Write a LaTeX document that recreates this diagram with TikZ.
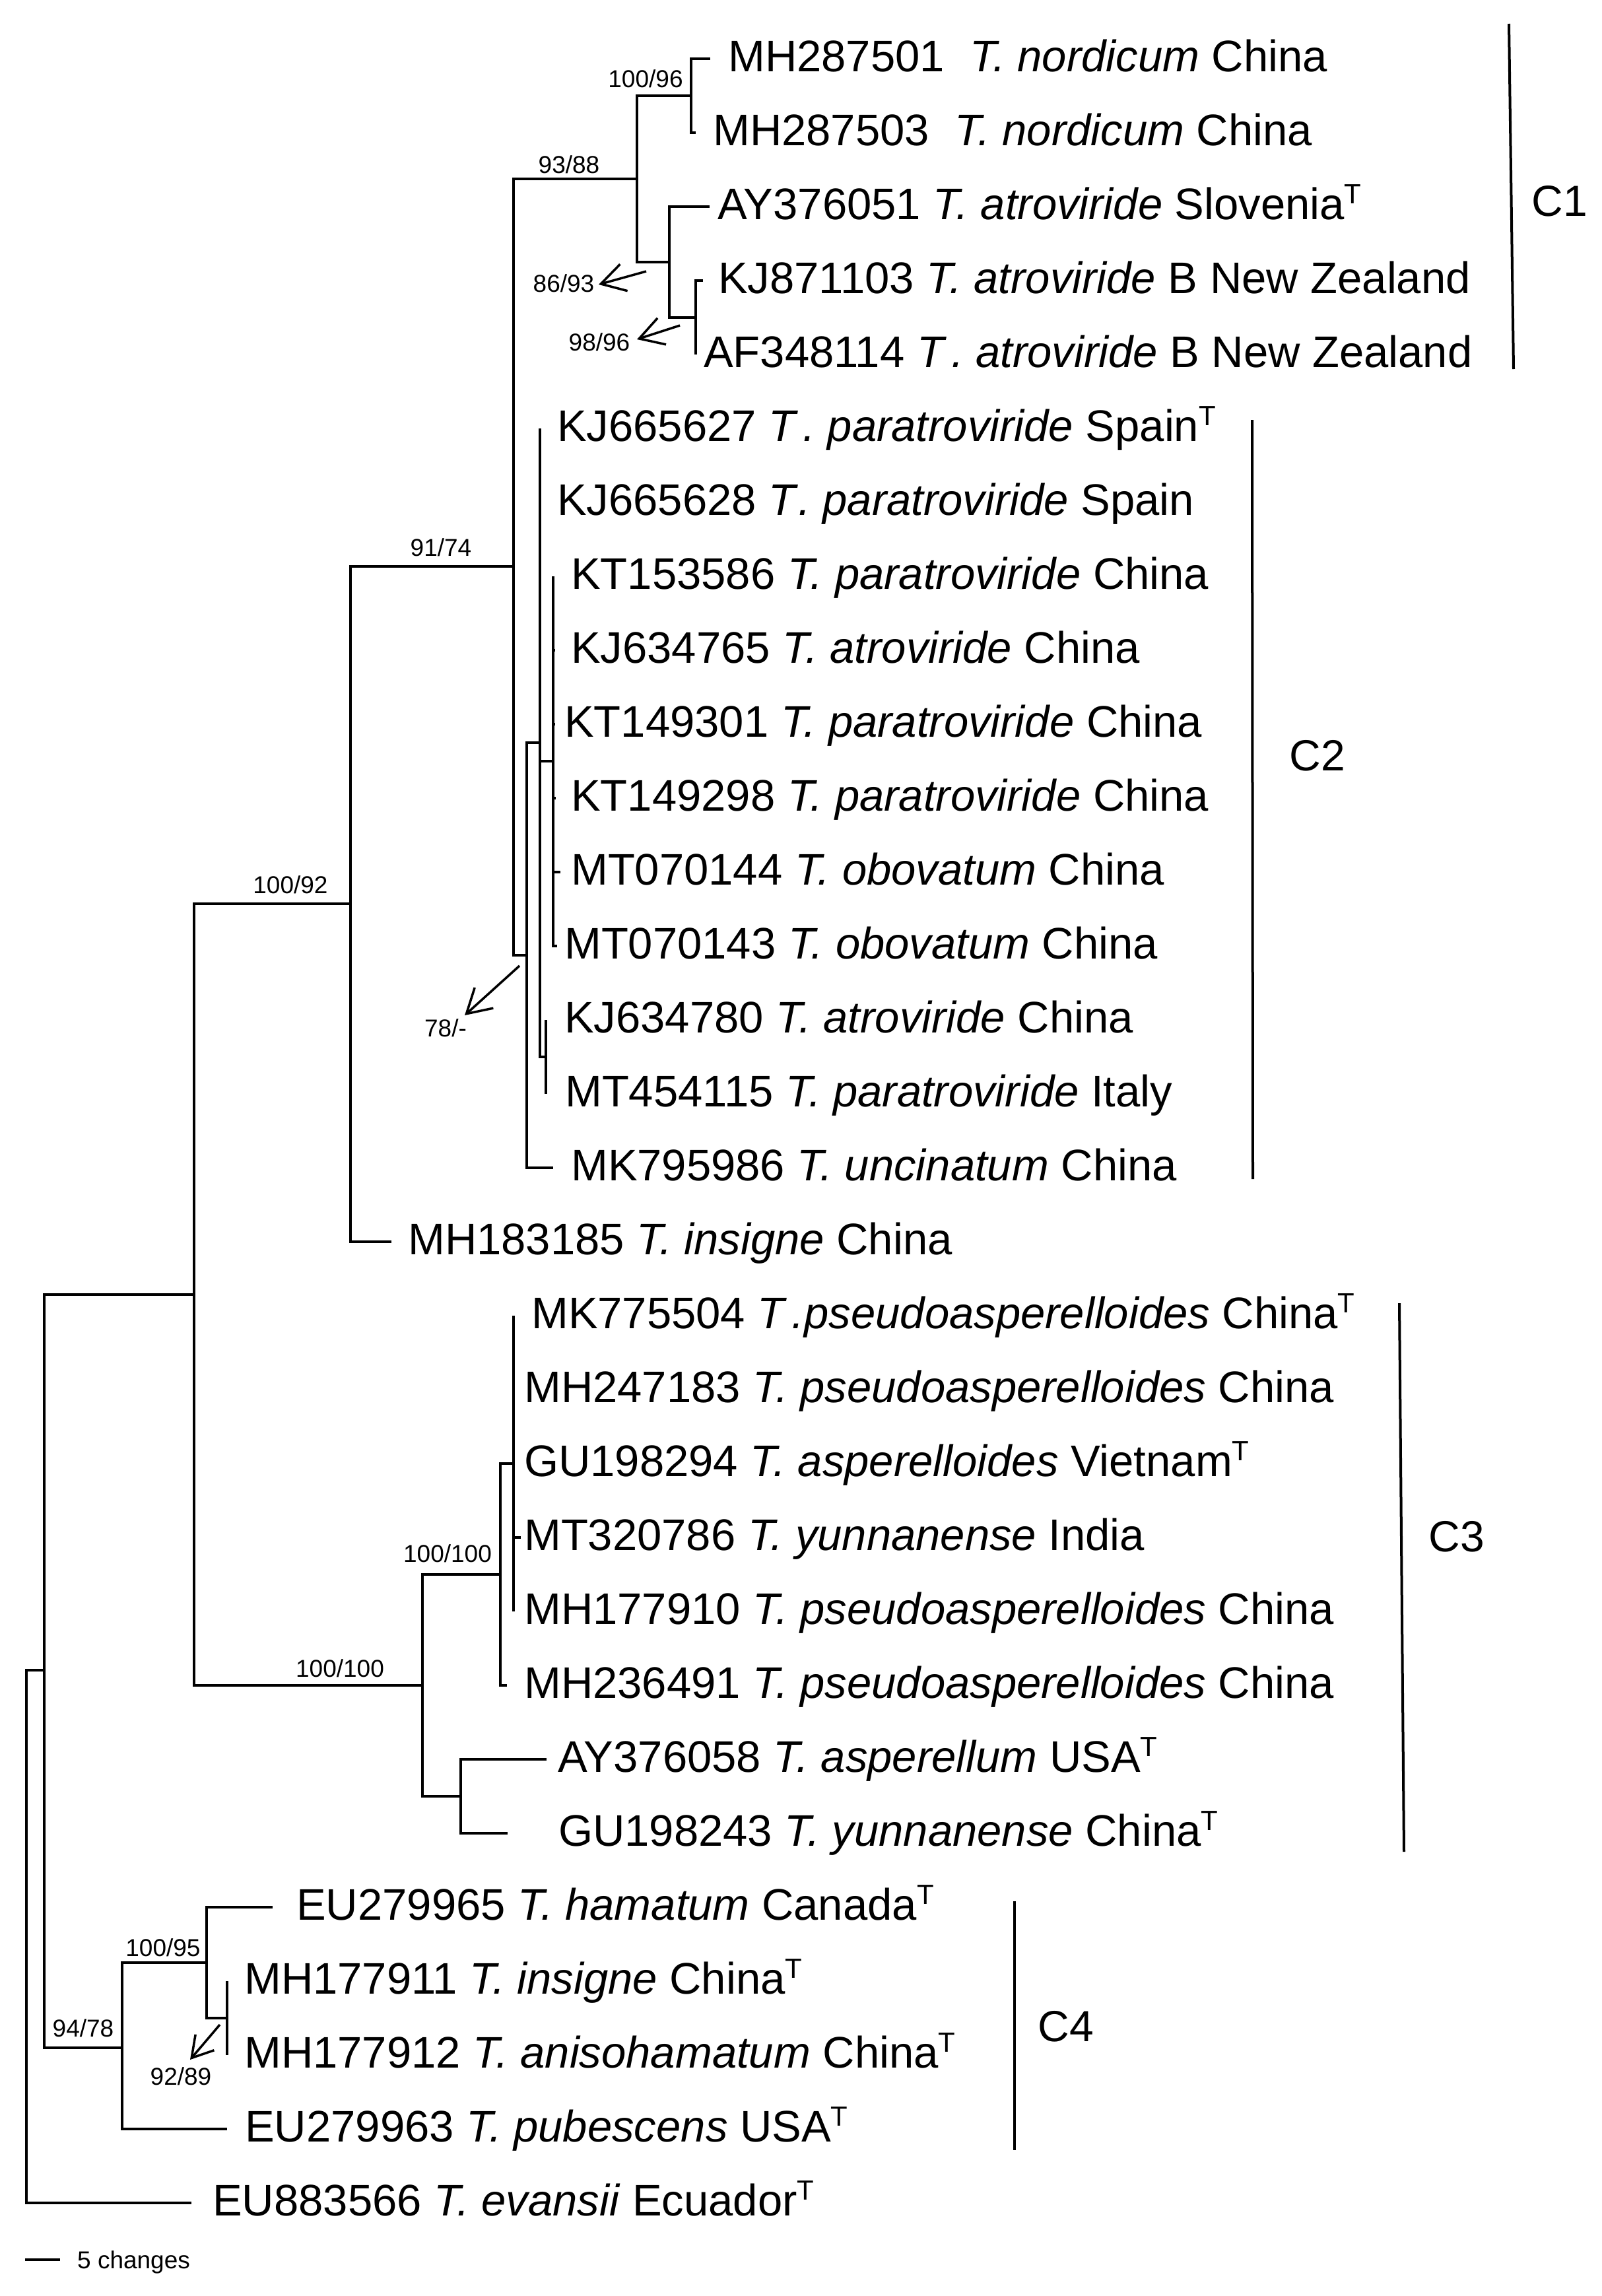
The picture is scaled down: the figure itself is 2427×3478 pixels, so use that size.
\documentclass[tikz,border=0pt]{standalone}
\usepackage{fontspec}
\setmainfont{Liberation Sans}
\usetikzlibrary{arrows.meta}
\newcommand\supT{\raisebox{24pt}{\fontsize{42}{42}\selectfont T}}
\begin{document}
\begin{tikzpicture}[x=1pt,y=-1pt,
  br/.style={line width=4.3pt, line join=miter},
  tiplab/.style={anchor=base west, inner sep=0pt, font=\fontsize{67}{80}\selectfont},
  supval/.style={inner sep=0pt, font=\fontsize{37}{44}\selectfont},
  cladelab/.style={inner sep=0pt, font=\fontsize{66}{79}\selectfont},
  cbar/.style={line width=4pt},
  ptr/.style={line width=3.5pt, -{Straight Barb[length=36pt,width=42pt]}},
  ptrs/.style={line width=3.5pt, -{Straight Barb[length=31pt,width=37pt]}}]
\useasboundingbox (0,0) rectangle (2427,3478);
% tips
\coordinate (t0) at (1076,89);
\coordinate (t1) at (1054,201);
\coordinate (t2) at (1075,313);
\coordinate (t3) at (1065,425);
\coordinate (t4) at (1054,537);
\coordinate (t5) at (818,649);
\coordinate (t6) at (818,761);
\coordinate (t7) at (838,873);
\coordinate (t8) at (841,985);
\coordinate (t9) at (841,1097);
\coordinate (t10) at (842,1209);
\coordinate (t11) at (849,1321);
\coordinate (t12) at (844,1433);
\coordinate (t13) at (827,1545);
\coordinate (t14) at (827,1657);
\coordinate (t15) at (838,1769);
\coordinate (t16) at (593,1881);
\coordinate (t17) at (778,1993);
\coordinate (t18) at (778,2105);
\coordinate (t19) at (778,2217);
\coordinate (t20) at (789,2329);
\coordinate (t21) at (778,2441);
\coordinate (t22) at (768,2553);
\coordinate (t23) at (828,2665);
\coordinate (t24) at (769,2777);
\coordinate (t25) at (413,2889);
\coordinate (t26) at (344,3001);
\coordinate (t27) at (344,3113);
\coordinate (t28) at (344,3225);
\coordinate (t29) at (290,3337);
% internal nodes
\coordinate (nA) at (1047,145);
\coordinate (nB) at (1054,481);
\coordinate (nC) at (1014,397);
\coordinate (nD) at (965,271);
\coordinate (nE) at (778,858);
\coordinate (nF) at (798,1447);
\coordinate (nG) at (818,1125);
\coordinate (nH) at (838,1153);
\coordinate (nI) at (827,1601);
\coordinate (nJ) at (531,1369);
\coordinate (nK) at (294,1961);
\coordinate (nL) at (640,2553);
\coordinate (nM) at (758,2385);
\coordinate (nO) at (778,2217);
\coordinate (nN) at (698,2721);
\coordinate (nP) at (67,2530);
\coordinate (nQ) at (185,3102);
\coordinate (nR) at (313,2973);
\coordinate (nS) at (344,3057);
\coordinate (nT) at (40,2933);
% branches
\draw[br] (nA) |- (t0) (nA) |- (t1);
\draw[br] (nB) |- (t3) (nB) |- (t4);
\draw[br] (nC) |- (t2) (nC) |- (nB);
\draw[br] (nD) |- (nA) (nD) |- (nC);
\draw[br] (nE) |- (nD) (nE) |- (nF);
\draw[br] (nF) |- (nG) (nF) |- (t15);
\draw[br] (nG) |- (t5) (nG) |- (t6) (nG) |- (nH) (nG) |- (nI);
\draw[br] (nH) |- (t7) (nH) |- (t8) (nH) |- (t9) (nH) |- (t10) (nH) |- (t11) (nH) |- (t12);
\draw[br] (nI) |- (t13) (nI) |- (t14);
\draw[br] (nJ) |- (nE) (nJ) |- (t16);
\draw[br] (nK) |- (nJ) (nK) |- (nL);
\draw[br] (nL) |- (nM) (nL) |- (nN);
\draw[br] (nM) |- (nO) (nM) |- (t22);
\draw[br] (nO) |- (t17) (nO) |- (t18) (nO) |- (t19) (nO) |- (t20) (nO) |- (t21);
\draw[br] (nN) |- (t23) (nN) |- (t24);
\draw[br] (nP) |- (nK) (nP) |- (nQ);
\draw[br] (nQ) |- (nR) (nQ) |- (t28);
\draw[br] (nR) |- (t25) (nR) |- (nS);
\draw[br] (nS) |- (t26) (nS) |- (t27);
\draw[br] (nT) |- (nP) (nT) |- (t29);
% tip labels
\node[tiplab] (l0) at (1103,108) {MH287501\hspace{20pt} \textit{T. nordicum} China};
\node[tiplab] (l1) at (1080,220) {MH287503\hspace{20pt} \textit{T. nordicum} China};
\node[tiplab] (l2) at (1087,332) {AY376051 \textit{T. atroviride} Slovenia\supT};
\node[tiplab] (l3) at (1088,444) {KJ871103 \textit{T. atroviride} B New Zealand};
\node[tiplab] (l4) at (1066,556) {AF348114 \textit{T\,. atroviride} B New Zealand};
\node[tiplab] (l5) at (844,668) {KJ665627 \textit{T\,. paratroviride} Spain\supT};
\node[tiplab] (l6) at (844,780) {KJ665628 \textit{T\kern4pt. paratroviride} Spain};
\node[tiplab] (l7) at (865,892) {KT153586 \textit{T. paratroviride} China};
\node[tiplab] (l8) at (865,1004) {KJ634765 \textit{T. atroviride} China};
\node[tiplab] (l9) at (855,1116) {KT149301 \textit{T. paratroviride} China};
\node[tiplab] (l10) at (865,1228) {KT149298 \textit{T. paratroviride} China};
\node[tiplab] (l11) at (865,1340) {MT070144 \textit{T. obovatum} China};
\node[tiplab] (l12) at (855,1452) {MT070143 \textit{T. obovatum} China};
\node[tiplab] (l13) at (855,1564) {KJ634780 \textit{T. atroviride} China};
\node[tiplab] (l14) at (856,1676) {MT454115 \textit{T. paratroviride} Italy};
\node[tiplab] (l15) at (865,1788) {MK795986 \textit{T. uncinatum} China};
\node[tiplab] (l16) at (618,1900) {MH183185 \textit{T. insigne} China};
\node[tiplab] (l17) at (805,2012) {MK775504 \textit{T\,.pseudoasperelloides} China\supT};
\node[tiplab] (l18) at (794,2124) {MH247183 \textit{T. pseudoasperelloides} China};
\node[tiplab] (l19) at (794,2236) {GU198294 \textit{T. asperelloides} Vietnam\supT};
\node[tiplab] (l20) at (794,2348) {MT320786 \textit{T. yunnanense} India};
\node[tiplab] (l21) at (794,2460) {MH177910 \textit{T. pseudoasperelloides} China};
\node[tiplab] (l22) at (794,2572) {MH236491 \textit{T. pseudoasperelloides} China};
\node[tiplab] (l23) at (845,2684) {AY376058 \textit{T. asperellum} USA\supT};
\node[tiplab] (l24) at (846,2796) {GU198243 \textit{T. yunnanense} China\supT};
\node[tiplab] (l25) at (449,2908) {EU279965 \textit{T. hamatum} Canada\supT};
\node[tiplab] (l26) at (370,3020) {MH177911 \textit{T. insigne} China\supT};
\node[tiplab] (l27) at (370,3132) {MH177912 \textit{T. anisohamatum} China\supT};
\node[tiplab] (l28) at (371,3244) {EU279963 \textit{T. pubescens} USA\supT};
\node[tiplab] (l29) at (322,3356) {EU883566 \textit{T. evansii} Ecuador\supT};
% support values
\node[supval] (s1) at (978,119) {100/96};
\node[supval] (s2) at (862,249) {93/88};
\node[supval] (s3) at (854,429) {86/93};
\node[supval] (s4) at (908,518) {98/96};
\node[supval] (s5) at (668,829) {91/74};
\node[supval] (s6) at (440,1340) {100/92};
\node[supval] (s7) at (675,1557) {78/-};
\node[supval] (s8) at (678,2353) {100/100};
\node[supval] (s9) at (515,2527) {100/100};
\node[supval] (s10) at (247,2950) {100/95};
\node[supval] (s11) at (126,3072) {94/78};
\node[supval] (s12) at (274,3145) {92/89};
% pointers
\coordinate (p3a) at (979,411); \coordinate (p3b) at (907,431);
\coordinate (p4a) at (1030,493); \coordinate (p4b) at (965,514);
\coordinate (p7a) at (787,1463); \coordinate (p7b) at (704,1538);
\coordinate (p12a) at (333,3067); \coordinate (p12b) at (288,3120);
\draw[ptr] (p3a) -- (p3b);
\draw[ptr] (p4a) -- (p4b);
\draw[ptr] (p7a) -- (p7b);
\draw[ptrs] (p12a) -- (p12b);
% clade bars
\coordinate (c1a) at (2286,36); \coordinate (c1b) at (2293,559);
\coordinate (c2a) at (1897,636); \coordinate (c2b) at (1898,1786);
\coordinate (c3a) at (2120,1974); \coordinate (c3b) at (2127,2805);
\coordinate (c4a) at (1537,2880); \coordinate (c4b) at (1537,3257);
\draw[cbar] (c1a) -- (c1b);
\draw[cbar] (c2a) -- (c2b);
\draw[cbar] (c3a) -- (c3b);
\draw[cbar] (c4a) -- (c4b);
\node[cladelab] (C1) at (2363,305) {C1};
\node[cladelab] (C2) at (1996,1145) {C2};
\node[cladelab] (C3) at (2207,2328) {C3};
\node[cladelab] (C4) at (1615,3070) {C4};
% scale bar
\coordinate (sb1) at (38,3423); \coordinate (sb2) at (91,3423);
\draw[line width=4pt] (sb1) -- (sb2);
\node[supval, anchor=base west] (sbl) at (117,3436) {5 changes};
\end{tikzpicture}
\end{document}
